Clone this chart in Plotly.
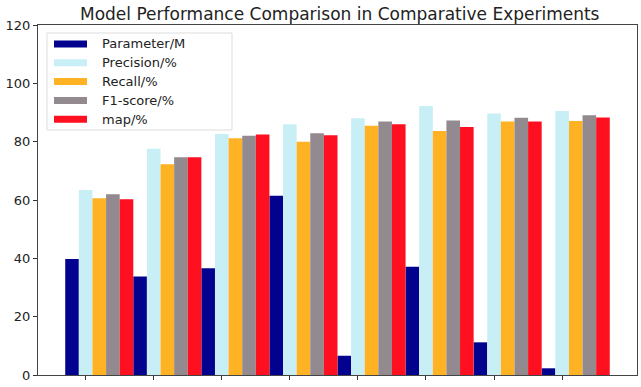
import plotly.graph_objects as go

groups = list(range(8))
series_names = ["Parameter/M", "Precision/%", "Recall/%", "F1-score/%", "map/%"]
parameter = [39.8, 33.8, 36.6, 61.5, 6.6, 37.1, 11.2, 2.3]
precision = [63.4, 77.6, 82.6, 86.0, 88.0, 92.2, 89.7, 90.5]
recall = [60.6, 72.3, 81.2, 80.0, 85.5, 83.7, 86.9, 87.1]
f1 = [62.0, 74.7, 82.0, 82.9, 86.9, 87.3, 88.2, 89.1]
mapv = [60.3, 74.7, 82.5, 82.2, 86.0, 85.0, 86.9, 88.3]
yticks = [0, 20, 40, 60, 80, 100, 120]

series = [parameter, precision, recall, f1, mapv]
colors = ["#02028f", "#c8eff6", "#ffb224", "#928a8f", "#ff1020"]
bar_w = 0.2

fig = go.Figure()
for k, (name, vals, col) in enumerate(zip(series_names, series, colors)):
    fig.add_trace(go.Bar(
        x=groups, y=vals, name=name, width=bar_w, offset=-0.3 + bar_w * k,
        marker=dict(color=col, line=dict(width=0)), showlegend=False,
    ))

font = "DejaVu Sans"
fig.update_layout(
    width=641, height=387,
    margin=dict(l=38, r=4, t=25, b=12),
    paper_bgcolor="white", plot_bgcolor="white",
    barmode="overlay",
    title=dict(text="Model Performance Comparison in Comparative Experiments",
               x=0.53, xanchor="center", y=0.963, yanchor="middle",
               font=dict(family=font, size=17, color="#222")),
    xaxis=dict(range=[-0.7, 8.1], tickvals=groups, ticktext=[""] * 8,
               ticks="outside", ticklen=4, tickcolor="#333", showgrid=False,
               zeroline=False, showline=True, linecolor="#444", linewidth=1.2, mirror=True),
    yaxis=dict(range=[0, 120], tickvals=yticks, ticks="outside", ticklen=4,
               tickcolor="#333", showgrid=False, zeroline=False, showline=True,
               linecolor="#444", linewidth=1.2, mirror=True,
               tickfont=dict(family=font, size=13, color="#222")),
)

# custom legend (matplotlib-like wide swatches)
lx0, ly0 = 47, 33
fig.add_shape(type="rect", xref="paper", yref="paper",
              x0=(lx0 - 38) / 599, x1=(232 - 38) / 599,
              y0=1 - (130 - 25) / 350, y1=1 - (ly0 - 25) / 350,
              line=dict(color="#dddddd", width=1), fillcolor="rgba(255,255,255,0.85)", layer="above")
for k, (name, col) in enumerate(zip(series_names, colors)):
    yc = 44 + 18.8 * k
    fig.add_shape(type="rect", xref="paper", yref="paper",
                  x0=(54 - 38) / 599, x1=(87 - 38) / 599,
                  y0=1 - (yc + 3.5 - 25) / 350, y1=1 - (yc - 3.5 - 25) / 350,
                  line=dict(width=0), fillcolor=col, layer="above")
    fig.add_annotation(xref="paper", yref="paper", x=(100 - 38) / 599, y=1 - (yc - 25) / 350,
                       text=name, showarrow=False, xanchor="left", yanchor="middle",
                       font=dict(family=font, size=13, color="#222"))

fig.write_html("out.html")
